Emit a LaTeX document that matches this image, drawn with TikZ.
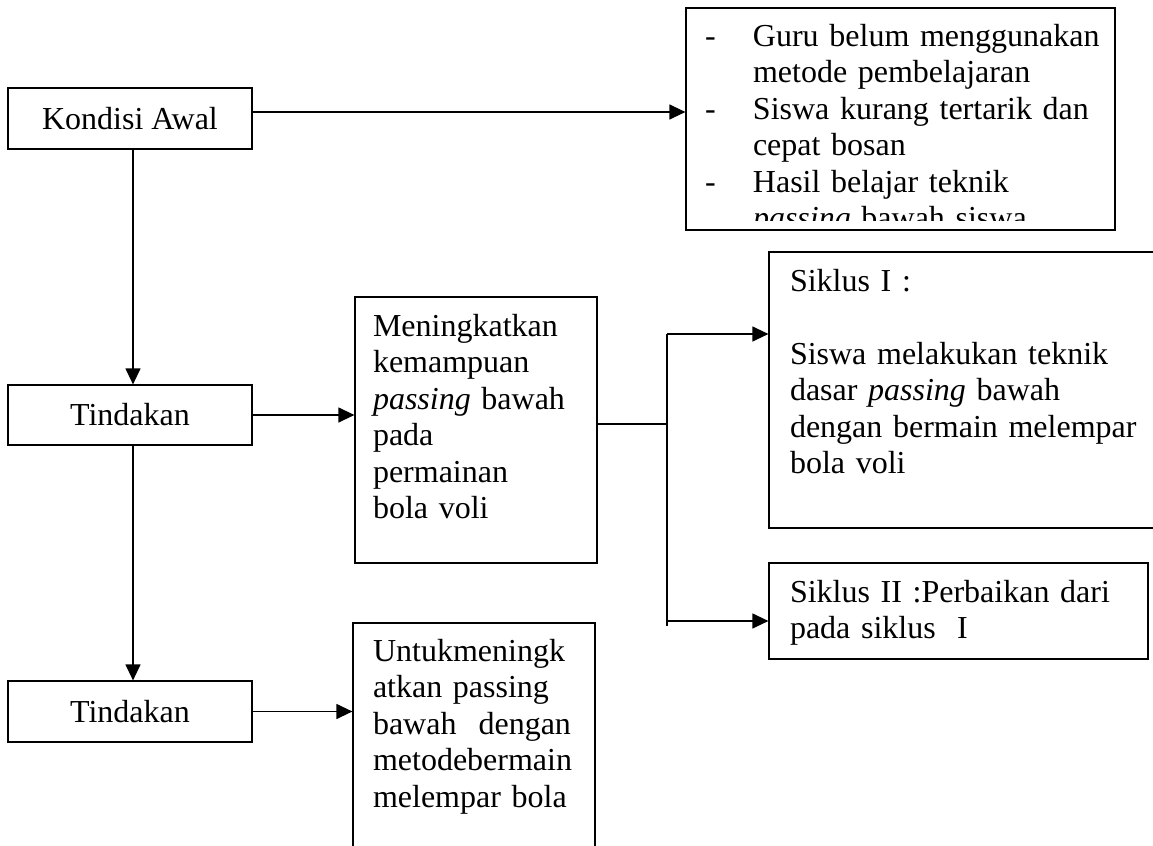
\documentclass[tikz,border=0pt]{standalone}
\usepackage{fontspec}
\setmainfont{Liberation Serif}
\usepackage{tikz}
\usetikzlibrary{arrows.meta, positioning}

\newcommand{\butir}{\makebox[24pt][l]{-}}
\newcommand{\lanjut}{\hspace*{24pt}}

\begin{document}
\begin{tikzpicture}[x=0.5pt, y=-0.5pt, line width=0.6pt,
  font=\fontsize{16pt}{18.25pt}\selectfont,
  kotak/.style={draw, inner sep=0pt},
  isi/.style={anchor=base west, inner sep=0pt, text width=#1, align=left},
  panah/.style={-{Triangle[length=8pt, width=7.5pt]}}]
\clip (0,0) rectangle (1153,846);

% kotak kiri
\node [kotak, minimum width=122pt, minimum height=30.5pt] (kondisi) at (130,118.5) {Kondisi Awal};
\node [kotak, minimum width=122pt, minimum height=30pt] (tindakan1) at (130,415) {Tindakan};
\node [kotak, minimum width=122pt, minimum height=30.5pt] (tindakan2) at (130,711.5) {Tindakan};

% kotak tengah dan kanan
\node [kotak, minimum width=214.5pt, minimum height=111pt] (masalah) at (900.5,119) {};
\node [kotak, minimum width=121pt, minimum height=133pt] (meningkat) at (476,430) {};
\node [kotak, minimum width=121pt, minimum height=128.5pt] (untuk) at (474,751.5) {};
\node [kotak, minimum width=198pt, minimum height=138pt] (siklus1) at (967,390) {};
\node [kotak, minimum width=189.5pt, minimum height=48pt] (siklus2) at (958.5,611) {};

% isi kotak
\begin{scope}
\clip (masalah.north west) rectangle ([yshift=5pt]masalah.south east);
\node [isi=205pt] (teksmasalah) at ([shift={(9.5pt,-19.5pt)}]masalah.north west)
  {\butir Guru belum menggunakan\\ \lanjut metode pembelajaran\\
   \butir Siswa kurang tertarik dan\\ \lanjut cepat bosan\\
   \butir Hasil belajar teknik\\ \lanjut \textit{passing} bawah siswa};
\end{scope}
\node [isi=115pt] (teksmeningkat) at ([shift={(9pt,-20pt)}]meningkat.north west)
  {Meningkatkan\\ kemampuan\\ \textit{passing} bawah\\ pada\\ permainan\\ bola voli};
\node [isi=115pt] (teksuntuk) at ([shift={(10pt,-19.5pt)}]untuk.north west)
  {Untukmeningk\\ atkan passing\\ \makebox[99pt][l]{bawah\hfill dengan}\\ metodebermain\\ melempar bola};
\node [isi=185pt] (tekssiklus1) at ([shift={(10.5pt,-20pt)}]siklus1.north west)
  {Siklus I :\\ \mbox{}\\ Siswa melakukan teknik\\ dasar \textit{passing} bawah\\ dengan bermain melempar\\ bola voli};
\node [isi=185pt] (tekssiklus2) at ([shift={(10.5pt,-20pt)}]siklus2.north west)
  {Siklus II :Perbaikan dari\\ pada siklus~~I};

% panah
\coordinate (k1) at ([yshift=3.25pt]kondisi.east);
\draw [panah] (k1) -- (k1 -| masalah.west);
\draw [panah] ([xshift=1.5pt]kondisi.south) -- ([xshift=1.5pt]tindakan1.north);
\draw [panah] ([xshift=1.5pt]tindakan1.south) -- ([xshift=1.5pt]tindakan2.north);
\draw [panah] (tindakan1.east) -- (tindakan1.east -| meningkat.west);
\draw [panah] (tindakan2.east) -- (tindakan2.east -| untuk.west);

\coordinate (cabang) at (667,424);
\coordinate (atas) at (667,334);
\coordinate (bawah) at (667,621);
\draw (meningkat.east |- cabang) -- (cabang);
\draw (atas) -- ([yshift=-2.5pt]bawah);
\draw [panah] (atas) -- (atas -| siklus1.west);
\draw [panah] (bawah) -- (bawah -| siklus2.west);
\end{tikzpicture}
\end{document}
